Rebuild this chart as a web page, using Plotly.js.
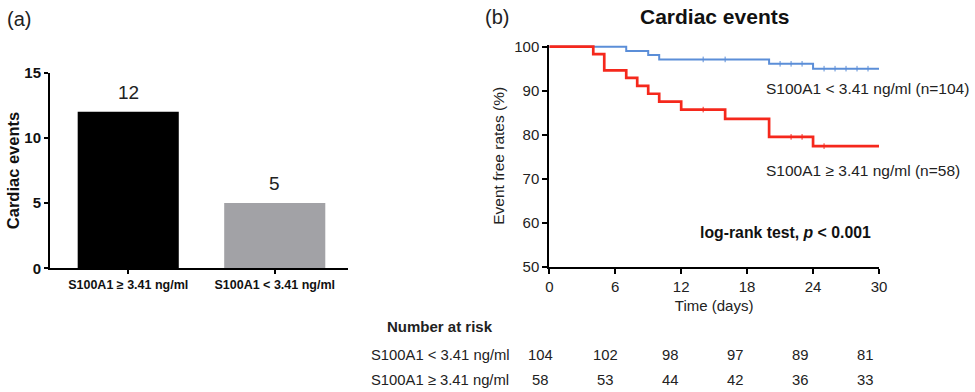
<!DOCTYPE html>
<html><head><meta charset="utf-8">
<script src="https://cdn.plot.ly/plotly-3.0.1.min.js"></script>
<style>html,body{margin:0;padding:0;background:#fff}#chart{width:975px;height:392px}</style>
</head><body><div id="chart"></div>
<script>
// ---- Panel (a) data ----
const barCategories = ['S100A1 ≥ 3.41 ng/ml', 'S100A1 < 3.41 ng/ml'];
const barValues = [12, 5];
const barColors = ['#000000', '#a2a2a6'];

// ---- Panel (b) Kaplan-Meier data ----
const lowTimes = [0, 7, 9, 10, 20, 24, 30];
const lowSurv  = [100, 99.0, 98.1, 97.1, 96.1, 95.0, 95.0];
const lowCensor = [14, 16, 21, 22, 23, 25, 26, 27, 28, 29];

const highTimes = [0, 4, 5, 7, 8, 9, 10, 12, 16, 20, 24, 30];
const highSurv  = [100, 98.3, 94.6, 92.9, 91.1, 89.3, 87.5, 85.7, 83.6, 79.5, 77.4, 77.4];
const highCensor = [14, 22, 23, 25];

const lowLabel = 'S100A1 < 3.41 ng/ml (n=104)';
const highLabel = 'S100A1 ≥ 3.41 ng/ml (n=58)';

// ---- Number at risk ----
const riskTimes = [0, 6, 12, 18, 24, 30];
const riskRowLabels = ['S100A1 < 3.41 ng/ml', 'S100A1 ≥ 3.41 ng/ml'];
const riskLow  = [104, 102, 98, 97, 89, 81];
const riskHigh = [58, 53, 44, 42, 36, 33];

const W = 975, H = 392;
const px = x => x / W;
const py = y => 1 - y / H;
const FONT = 'Liberation Sans, Arial, Helvetica, sans-serif';

function stepValue(times, surv, t) {
  let v = surv[0];
  for (let i = 0; i < times.length; i++) if (times[i] <= t) v = surv[i];
  return v;
}

const BLUE = '#5b8ed8', RED = '#f5281c';
const traces = [
  {type: 'bar', x: [0, 1], y: barValues, width: 0.69,
   marker: {color: barColors}, xaxis: 'x', yaxis: 'y', hoverinfo: 'none'},
  {type: 'scatter', mode: 'lines', x: lowTimes, y: lowSurv, line: {shape: 'hv', color: BLUE, width: 2},
   xaxis: 'x2', yaxis: 'y2'},
  {type: 'scatter', mode: 'markers', x: lowCensor, y: lowCensor.map(t => stepValue(lowTimes, lowSurv, t)),
   marker: {symbol: 'line-ns', size: 4, line: {color: BLUE, width: 1}}, xaxis: 'x2', yaxis: 'y2', cliponaxis: false},
  {type: 'scatter', mode: 'lines', x: highTimes, y: highSurv, line: {shape: 'hv', color: RED, width: 2.7},
   xaxis: 'x2', yaxis: 'y2'},
  {type: 'scatter', mode: 'markers', x: highCensor, y: highCensor.map(t => stepValue(highTimes, highSurv, t)),
   marker: {symbol: 'line-ns', size: 4, line: {color: RED, width: 1}}, xaxis: 'x2', yaxis: 'y2', cliponaxis: false}
];

const annotations = [];
function ann(text, x, y, opts) {
  annotations.push(Object.assign({text, x, y, xref: 'paper', yref: 'paper', showarrow: false,
    font: {family: FONT, size: 13, color: '#222'}}, opts || {}));
}
// panel letters
ann('(a)', px(5), py(19), {xanchor: 'left', yanchor: 'middle', font: {family: FONT, size: 20, color: '#222'}});
ann('(b)', px(483), py(17), {xanchor: 'left', yanchor: 'middle', font: {family: FONT, size: 20, color: '#222'}});
// bar value labels
barValues.forEach((v, i) => annotations.push({text: String(v), x: i, y: v, xref: 'x', yref: 'y', showarrow: false,
  xanchor: 'center', yanchor: 'bottom', yshift: 7, font: {family: FONT, size: 19, color: '#222'}}));
// panel b title
ann('<b>Cardiac events</b>', px(714), py(16), {xanchor: 'center', yanchor: 'middle', font: {family: FONT, size: 21, color: '#111'}});
// curve labels
ann(lowLabel, px(764), py(88), {xanchor: 'left', yanchor: 'middle', font: {family: FONT, size: 15.5, color: '#222'}});
ann(highLabel, px(764), py(170), {xanchor: 'left', yanchor: 'middle', font: {family: FONT, size: 15.5, color: '#222'}});
ann('<b>log-rank test, <i>p</i> < 0.001</b>', px(873), py(232), {xanchor: 'right', yanchor: 'middle', font: {family: FONT, size: 15.8, color: '#111'}});
// number at risk
ann('<b>Number at risk</b>', px(385), py(326), {xanchor: 'left', yanchor: 'middle', font: {family: FONT, size: 15, color: '#222'}});
const rows = [riskLow, riskHigh];
const rowY = [355, 380];
rows.forEach((vals, r) => {
  ann(riskRowLabels[r], px(369), py(rowY[r]), {xanchor: 'left', yanchor: 'middle', font: {family: FONT, size: 14.8, color: '#222'}});
  vals.forEach((v, i) => {
    ann(String(v), px(540 + i * 65), py(rowY[r]), {xanchor: 'center', yanchor: 'middle', font: {family: FONT, size: 14.8, color: '#222'}});
  });
});

const layout = {
  width: W, height: H,
  margin: {l: 0, r: 0, t: 0, b: 0},
  paper_bgcolor: '#fff', plot_bgcolor: '#fff',
  showlegend: false,
  font: {family: FONT, color: '#222'},
  xaxis: {domain: [px(50), px(348)], range: [-0.534, 1.5], tickvals: [0, 1], ticktext: barCategories,
    showline: true, linecolor: '#000', linewidth: 2, ticks: 'outside', ticklen: 4, tickwidth: 2, tickcolor: '#000',
    showgrid: false, zeroline: false, fixedrange: true,
    tickfont: {family: FONT, size: 12.5, color: '#111', weight: 'bold'}},
  yaxis: {domain: [py(268.3), py(72.7)], range: [0, 15], tickvals: [0, 5, 10, 15],
    showline: true, linecolor: '#000', linewidth: 2, ticks: 'outside', ticklen: 4, tickwidth: 2, tickcolor: '#000',
    showgrid: false, zeroline: false, fixedrange: true,
    tickfont: {family: FONT, size: 15, color: '#111', weight: 'bold'},
    title: {text: '<b>Cardiac events</b>', font: {family: FONT, size: 16.5, color: '#111'}, standoff: 1}},
  xaxis2: {domain: [px(549.3), px(879)], range: [0, 30], tickvals: riskTimes, anchor: 'y2',
    showline: true, linecolor: '#000', linewidth: 2, ticks: 'outside', ticklen: 5, tickwidth: 2, tickcolor: '#000',
    showgrid: false, zeroline: false, fixedrange: true,
    tickfont: {family: FONT, size: 15, color: '#222'},
    title: {text: 'Time (days)', font: {family: FONT, size: 15, color: '#222'}, standoff: 7}},
  yaxis2: {domain: [py(266.7), py(44.9)], range: [50, 100.4], tickvals: [50, 60, 70, 80, 90, 100], anchor: 'x2',
    showline: true, linecolor: '#000', linewidth: 2, ticks: 'outside', ticklen: 5, tickwidth: 2, tickcolor: '#000',
    showgrid: false, zeroline: false, fixedrange: true,
    tickfont: {family: FONT, size: 15, color: '#222'},
    title: {text: 'Event free rates (%)', font: {family: FONT, size: 15.5, color: '#222'}, standoff: 6}},
  annotations
};

Plotly.newPlot('chart', traces, layout, {staticPlot: true, displayModeBar: false});
</script></body></html>
